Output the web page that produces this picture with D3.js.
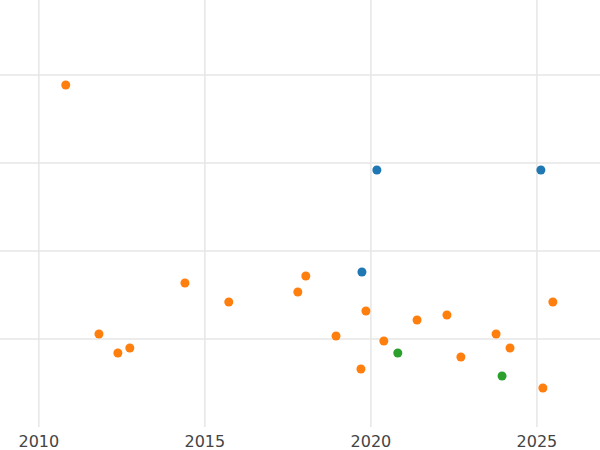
<!DOCTYPE html>
<html><head><meta charset="utf-8">
<script src="https://cdn.jsdelivr.net/npm/d3@7"></script>
<style>body{margin:0;background:#fff}</style>
</head><body><div id="chart"></div>
<script>
const orangeX = [2010.81, 2011.81, 2012.38, 2012.74, 2014.40, 2015.72, 2017.80, 2018.04, 2018.95, 2019.70, 2019.85, 2020.39, 2021.39, 2022.29, 2022.71, 2023.77, 2024.19, 2025.18, 2025.48];
const orangeY = [3.886, 1.057, 0.841, 0.898, 1.636, 1.42, 1.534, 1.716, 1.034, 0.659, 1.318, 0.977, 1.216, 1.273, 0.795, 1.057, 0.898, 0.443, 1.42];
const blueX = [2020.18, 2025.12, 2019.73];
const blueY = [2.92, 2.92, 1.761];
const greenX = [2020.81, 2023.95];
const greenY = [0.841, 0.58];
const xTicks = [2010, 2015, 2020, 2025];
const yGrid = [1, 2, 3, 4];

const width = 600, height = 450, plotBottom = 427;
const x = d3.scaleLinear().domain([2008.83, 2026.9]).range([0, width]);
const y = d3.scaleLinear().domain([0, 4.852]).range([plotBottom, 0]);

const svg = d3.select("#chart").append("svg").attr("width", width).attr("height", height);

svg.append("g").selectAll("line").data(yGrid).enter().append("line")
  .attr("x1", 0).attr("x2", width)
  .attr("y1", d => y(d)).attr("y2", d => y(d))
  .attr("stroke", "#e6e6e6").attr("stroke-width", 1.5);

svg.append("g").selectAll("line").data(xTicks).enter().append("line")
  .attr("x1", d => x(d)).attr("x2", d => x(d))
  .attr("y1", 0).attr("y2", plotBottom)
  .attr("stroke", "#e6e6e6").attr("stroke-width", 1.5);

svg.append("g").selectAll("text").data(xTicks).enter().append("text")
  .attr("x", d => x(d)).attr("y", 447)
  .attr("text-anchor", "middle")
  .style("font-family", "DejaVu Sans").style("font-size", "16px")
  .attr("fill", "#444").text(d => d);

const series = [
  { xs: orangeX, ys: orangeY, color: "#ff7f0e" },
  { xs: blueX, ys: blueY, color: "#1f77b4" },
  { xs: greenX, ys: greenY, color: "#2ca02c" },
];
series.forEach(s => {
  svg.append("g").selectAll("circle").data(s.xs).enter().append("circle")
    .attr("cx", d => x(d)).attr("cy", (d, i) => y(s.ys[i]))
    .attr("r", 4.5).attr("fill", s.color);
});
</script></body></html>
